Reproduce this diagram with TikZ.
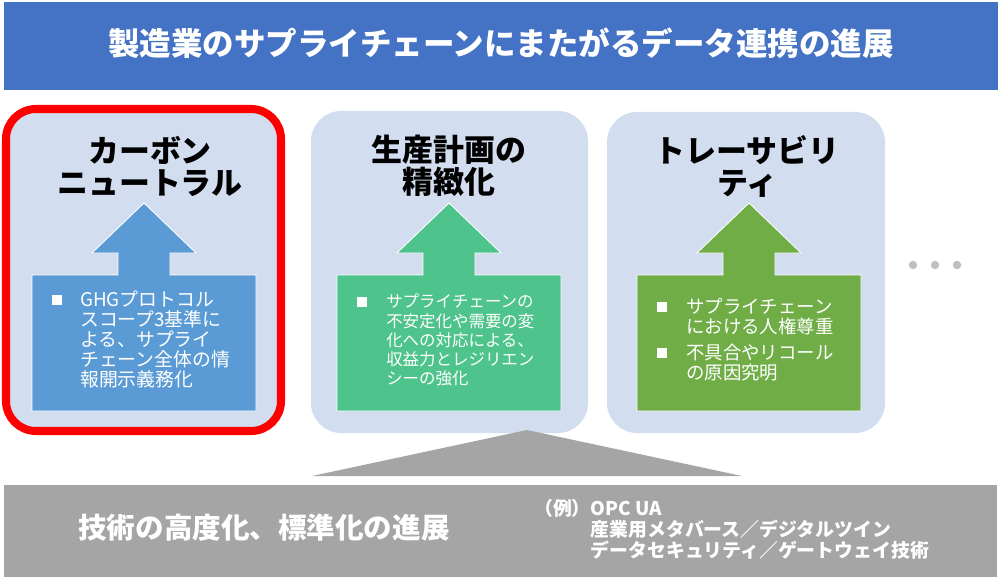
\documentclass[tikz,border=0pt]{standalone}
\usepackage{fontspec}
\setmainfont{Noto Sans CJK JP}
\definecolor{titleblue}{RGB}{68,114,196}
\definecolor{panelfill}{RGB}{210,222,239}
\definecolor{arrowblue}{RGB}{91,155,213}
\definecolor{arrowgreen}{RGB}{78,196,140}
\definecolor{arrowolive}{RGB}{112,173,71}
\definecolor{techgray}{RGB}{165,165,165}
\definecolor{dotgray}{RGB}{191,191,191}

\begin{document}
\begin{tikzpicture}[x=0.025cm, y=-0.025cm,
    panel/.style={fill=panelfill, rounded corners=0.75cm},
    uparrow/.style={draw=white, line width=0.6pt},
    heading/.style={font=\bfseries\fontsize{22}{22.8}\selectfont, align=center, inner sep=0pt},
    bodytext/.style={text=white, align=left, anchor=north west, inner sep=0pt},
    bulletsq/.style={fill=white, inner sep=0pt, minimum size=7pt}]
    \useasboundingbox (0,0) rectangle (1005,577);
    % title bar
    \fill[titleblue] (4,2) rectangle (998,90);
    \node[text=white, font=\bfseries\fontsize{22.4}{24}\selectfont] (title) at (501,43) {製造業のサプライチェーンにまたがるデータ連携の進展};
    % panels
    \fill[panel] (6,109) rectangle (281,431);
    \draw[red, line width=5.7pt, rounded corners=0.75cm] (6,109) rectangle (281,431);
    \fill[panel] (311,111) rectangle (588,433);
    \fill[panel] (607,112) rectangle (885,433);
    % arrows
    \foreach \cx/\col in {144/arrowblue, 449/arrowgreen, 749/arrowolive}
        \filldraw[uparrow, fill=\col] (\cx,203) -- (\cx+52,253) -- (\cx+26,253) -- (\cx+26,275) -- (\cx+112,275) -- (\cx+112,411) -- (\cx-112,411) -- (\cx-112,275) -- (\cx-26,275) -- (\cx-26,253) -- (\cx-52,253) -- cycle;
    % headings
    \node[heading] (carbon) at (150,166) {カーボン\\ニュートラル};
    \node[heading] (plan) at (449,166) {生産計画の\\精緻化};
    \node[heading] (trace) at (747,166) {トレーサビリ\\ティ};
    % bullets
    \node[bulletsq] (b1) at (57,300) {};
    \node[bodytext, font=\fontsize{13.4}{14.2}\selectfont] (t1) at (80,291) {GHGプロトコル\\スコープ3基準に\\よる、サプライ\\チェーン全体の情\\報開示義務化};
    \node[bulletsq] (b2) at (362,302) {};
    \node[bodytext, font=\fontsize{11.7}{13.6}\selectfont] (t2) at (386,294) {サプライチェーンの\\不安定化や需要の変\\化への対応による、\\収益力とレジリエン\\シーの強化};
    \node[bulletsq] (b3) at (662,307) {};
    \node[bodytext, font=\fontsize{13.1}{14.2}\selectfont] (t3) at (686,298) {サプライチェーン\\における人権尊重};
    \node[bulletsq] (b4) at (662,353) {};
    \node[bodytext, font=\fontsize{13.1}{14.2}\selectfont] (t4) at (686,344) {不具合やリコール\\の原因究明};
    % more
    \foreach \x in {913,935,957}
        \fill[dotgray] (\x,265) circle (3pt);
    % technology base
    \fill[techgray] (527,430) -- (742,476) -- (312,476) -- cycle;
    \fill[techgray] (4,485) rectangle (997,577);
    \node[text=white, font=\bfseries\fontsize{20.3}{22}\selectfont] (tech) at (264,528) {技術の高度化、標準化の進展};
    \node[bodytext, font=\bfseries\fontsize{13.4}{15}\selectfont] (examples) at (534,499) {（例）OPC UA\\\hspace*{3em}産業用メタバース／デジタルツイン\\\hspace*{3em}データセキュリティ／ゲートウェイ技術};
\end{tikzpicture}
\end{document}
